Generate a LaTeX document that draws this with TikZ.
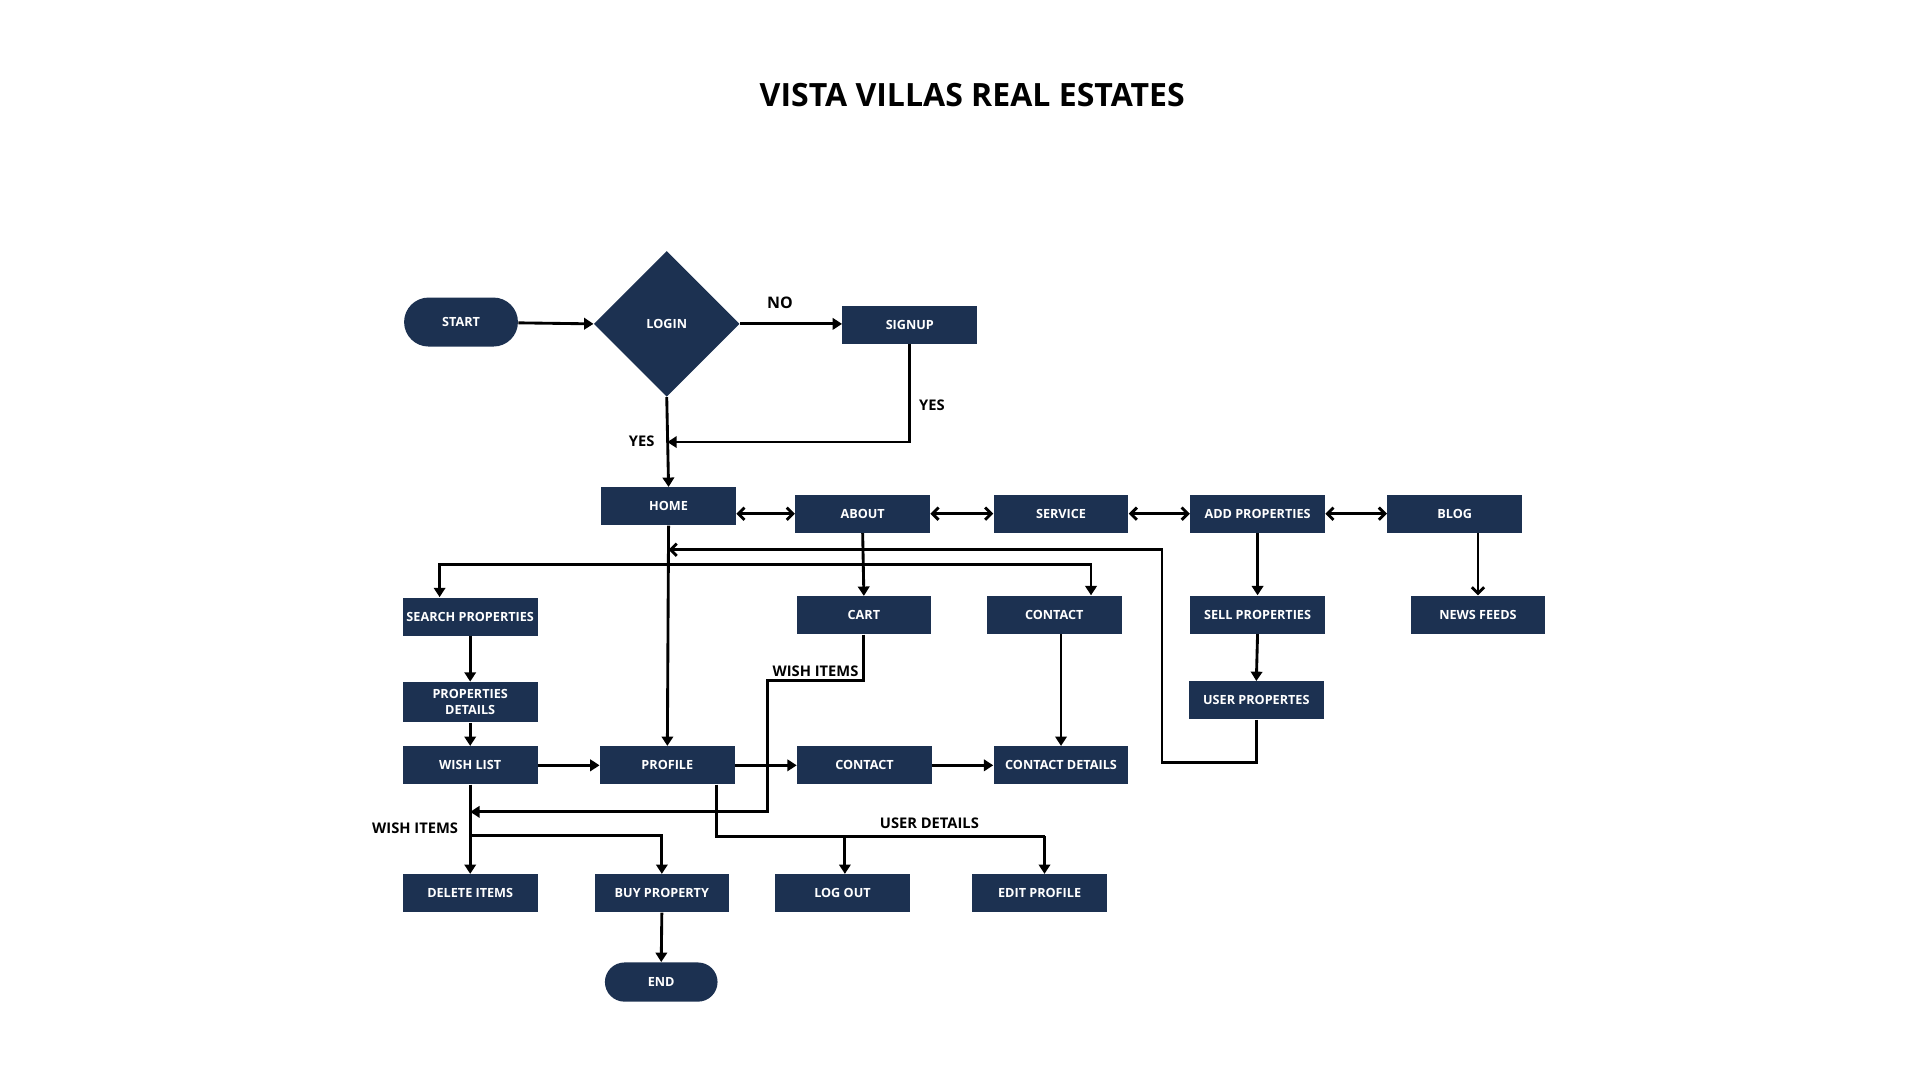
\documentclass[tikz,border=0pt]{standalone}
\usepackage{fontspec}
\setmainfont{Open Sans}
\usetikzlibrary{shapes.geometric,arrows.meta,calc}
\definecolor{navy}{HTML}{1C3151}
\begin{document}
\begin{tikzpicture}[x=0.6pt,y=-0.6pt,
  box/.style={rectangle,fill=navy,text=white,inner sep=0pt,
    minimum width=66pt,minimum height=18.6pt,align=center,
    font=\bfseries\fontsize{6.2}{7.7}\selectfont},
  terminal/.style={box,rounded corners=11pt},
  decision/.style={diamond,fill=navy,text=white,inner sep=0pt,aspect=1,
    minimum width=71.4pt,minimum height=71.4pt,
    font=\bfseries\fontsize{6.2}{7.7}\selectfont},
  lbl/.style={font=\bfseries\fontsize{7.2}{8.6}\selectfont,inner sep=0pt},
  link/.style={line width=1.4pt,-{Triangle[width=5.6pt,length=4.6pt]}},
  barb/.style={line width=1.4pt,-{Straight Barb[width=6pt,length=3pt]}},
  both/.style={line width=1.4pt,{Straight Barb[width=6pt,length=3pt]}-{Straight Barb[width=6pt,length=3pt]}},
  plain/.style={line width=1.4pt}]
\useasboundingbox (0,0) rectangle (1568,882);

% title
\node[font=\bfseries\fontsize{15.7}{18.8}\selectfont] (title) at (794,78) {VISTA VILLAS REAL ESTATES};

% entry
\node[terminal,minimum width=55.8pt,minimum height=24pt,rounded corners=12pt] (start) at (376.5,263) {START};
\node[decision] (login) at (544.5,264.5) {LOGIN};
\node[box] (signup) at (743,265.5) {SIGNUP};

% top menu
\node[box] (home) at (546,413.5) {HOME};
\node[box] (about) at (704.5,419.5) {ABOUT};
\node[box] (service) at (866.5,419.5) {SERVICE};
\node[box] (addprop) at (1027,419.5) {ADD PROPERTIES};
\node[box] (blog) at (1188,419.5) {BLOG};

% second row
\node[box] (search) at (384,503.5) {SEARCH PROPERTIES};
\node[box] (cart) at (705.5,502.5) {CART};
\node[box] (contacta) at (861,502) {CONTACT};
\node[box] (sell) at (1027,502) {SELL PROPERTIES};
\node[box] (news) at (1207,502) {NEWS FEEDS};

% lower rows
\node[box,minimum height=19.8pt] (pdetails) at (384,573.5) {PROPERTIES\\DETAILS};
\node[box] (userprop) at (1026,572) {USER PROPERTES};
\node[box] (wish) at (384,625) {WISH LIST};
\node[box] (profile) at (545,625) {PROFILE};
\node[box] (contactb) at (706,625) {CONTACT};
\node[box] (cdetails) at (866.5,625) {CONTACT DETAILS};
\node[box] (delete) at (384,729.5) {DELETE ITEMS};
\node[box] (buy) at (540.5,729.5) {BUY PROPERTY};
\node[box] (logout) at (688,729.5) {LOG OUT};
\node[box] (edit) at (849,729.5) {EDIT PROFILE};
\node[terminal,minimum width=55.2pt,minimum height=19.2pt,rounded corners=9.6pt] (end) at (540,802) {END};

% junction points
\coordinate (yesjoin) at (545,361);
\coordinate (split) at (546,461);
\coordinate (back) at (546,449);
\coordinate (wishjoin) at (384,663);
\coordinate (wishsplit) at (384,682);
\coordinate (userjoin) at (853,683);

% login flow
\draw[link] (start) -- (login.west);
\draw[link] (login.east) -- (login.east -| signup.west);
\draw[link] (signup.south) |- (yesjoin);
\draw[link] (login.south) -- (home.north);
\node[lbl,font=\bfseries\fontsize{7.8}{9}\selectfont] (no) at (637,247) {NO};
\node[lbl] (yesa) at (761,331) {YES};
\node[lbl] (yesb) at (524,360) {YES};

% menu links
\draw[both] (about.west -| home.east) -- (about.west);
\draw[both] (about.east) -- (service.west);
\draw[both] (service.east) -- (addprop.west);
\draw[both] (addprop.east) -- (blog.west);

% from home
\draw[link] (home.south) -- (profile.north);
\draw[link] (split) -| ($(search.north)+(-25,0)$);
\draw[link] (split) -| ($(contacta.north)+(30,0)$);
\draw[barb] (userprop.south) |- (949,623) |- (back);

% vertical chains
\draw[link] (about.south) -- (cart.north);
\draw[link] (cdetails.north |- contacta.south) -- (cdetails.north);
\draw[link] (addprop.south) -- (sell.north);
\draw[link] (sell.south) -- (userprop.north);
\draw[barb] (news.north |- blog.south) -- (news.north);
\draw[link] (search.south) -- (pdetails.north);
\draw[link] (pdetails.south) -- (wish.north);

% cart to wish list
\draw[link] (cart.south) |- (627,556) |- (wishjoin);
\node[lbl] (wishitemsa) at (666,548) {WISH ITEMS};

% middle row
\draw[link] (wish.east) -- (profile.west);
\draw[link] (profile.east) -- (contactb.west);
\draw[link] (contactb.east) -- (cdetails.west);

% wish list outcomes
\draw[link] (wish.south) -- (delete.north);
\draw[link] (wishsplit) -| (buy.north);
\node[lbl] (wishitemsb) at (339,676) {WISH ITEMS};
\draw[link] (buy.south) -- (end.north);

% profile outcomes
\draw[plain] ($(profile.south)+(40,0)$) |- (userjoin);
\draw[link] (userjoin) -- (userjoin |- edit.north);
\draw[link] ($(logout.north |- userjoin)+(2,0)$) -- ($(logout.north)+(2,0)$);
\node[lbl] (userdetails) at (759,672) {USER DETAILS};
\end{tikzpicture}
\end{document}
